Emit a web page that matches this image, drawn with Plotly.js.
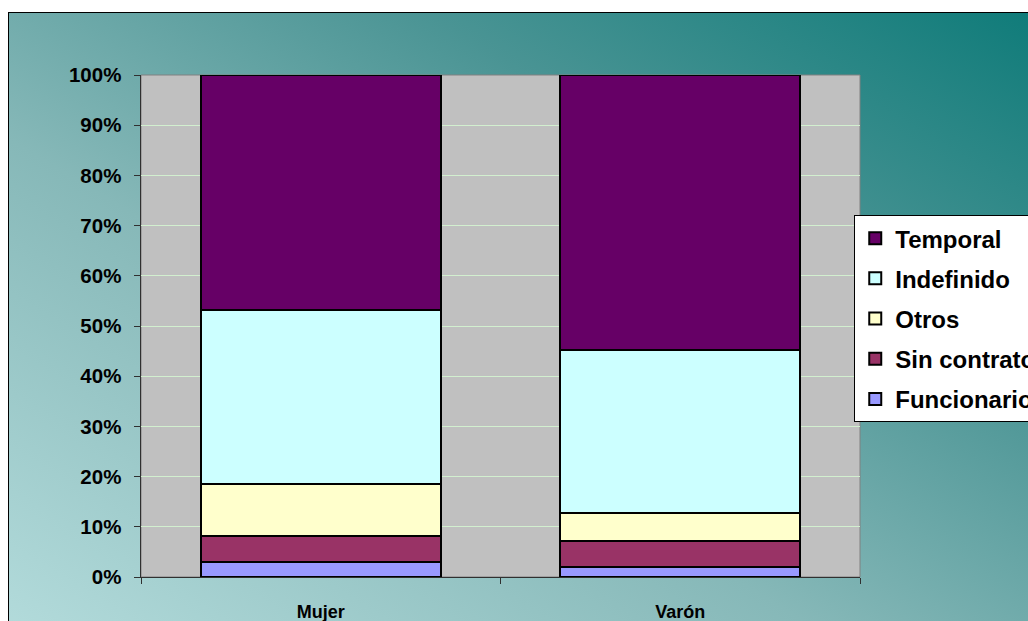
<!DOCTYPE html>
<html>
<head>
<meta charset="utf-8">
<script src="https://cdn.plot.ly/plotly-3.0.1.min.js"></script>
<style>
  html, body { margin: 0; padding: 0; overflow: hidden; width: 1028px; height: 621px; }
  #bg { position: absolute; left: 8px; top: 12px; width: 1040px; height: 630px;
        border: 1px solid #000;
        background: linear-gradient(to top right, #b4dcdc 0%, #86b8b8 40%, #4a9494 70%, #0e7b79 100%); }
  #chart { position: absolute; left: 0; top: 0; width: 1028px; height: 621px; }
</style>
</head>
<body>
<div id="bg"></div>
<div id="chart"></div>
<script>
const categories = ['Mujer', 'Varón'];
const funcionario = [3.0, 1.9];
const sinContrato = [5.2, 5.3];
const otros = [10.4, 5.5];
const indefinido = [34.6, 32.5];
const temporal = [46.8, 54.8];
const yTickVals = [0, 10, 20, 30, 40, 50, 60, 70, 80, 90, 100];

const series = [
  {name: 'Funcionario', y: funcionario, color: '#9999ff', rank: 5},
  {name: 'Sin contrato', y: sinContrato, color: '#993366', rank: 4},
  {name: 'Otros', y: otros, color: '#ffffcc', rank: 3},
  {name: 'Indefinido', y: indefinido, color: '#ccffff', rank: 2},
  {name: 'Temporal', y: temporal, color: '#660066', rank: 1}
];

const traces = series.map(s => ({
  type: 'bar',
  name: s.name,
  x: categories,
  y: s.y,
  legendgroup: s.name,
  legendrank: s.rank,
  marker: {color: s.color, line: {color: '#000000', width: 2}},
  hoverinfo: 'skip'
}));

const layout = {
  width: 1028,
  height: 621,
  paper_bgcolor: 'rgba(0,0,0,0)',
  plot_bgcolor: '#c0c0c0',
  margin: {l: 141, r: 168, t: 75, b: 44, autoexpand: false},
  barmode: 'stack',
  bargap: 0.332,
  showlegend: true,
  font: {family: 'Liberation Sans, Arial, sans-serif', color: '#000'},
  xaxis: {
    type: 'category',
    showgrid: false,
    showline: true,
    linecolor: '#303030',
    linewidth: 1,
    ticks: 'outside',
    tickson: 'boundaries',
    ticklen: 6,
    tickcolor: '#303030',
    ticklabelstandoff: 18,
    tickfont: {size: 18, family: 'Liberation Sans, Arial, sans-serif', weight: 'bold', color: '#000'},
    zeroline: false
  },
  yaxis: {
    range: [0, 100],
    tickvals: yTickVals,
    ticktext: yTickVals.map(v => v + '%'),
    showgrid: true,
    gridcolor: '#d2efcf',
    gridwidth: 1,
    showline: true,
    linecolor: '#303030',
    linewidth: 1.5,
    ticks: 'outside',
    ticklen: 6,
    tickcolor: '#303030',
    ticklabelstandoff: 8,
    tickfont: {size: 20.5, family: 'Liberation Sans, Arial, sans-serif', weight: 'bold', color: '#000'},
    zeroline: false
  },
  legend: {
    x: 0.992,
    xanchor: 'left',
    y: 0.721,
    yanchor: 'top',
    bgcolor: '#ffffff',
    bordercolor: '#000000',
    borderwidth: 1,
    traceorder: 'grouped',
    tracegroupgap: 6,
    font: {size: 24, family: 'Liberation Sans, Arial, sans-serif', weight: 'bold', color: '#000'}
  },
  shapes: [{
    type: 'rect', xref: 'paper', yref: 'paper', x0: 0, x1: 1, y0: 0, y1: 1,
    line: {color: '#808080', width: 1}, layer: 'below'
  }]
};

Plotly.newPlot('chart', traces, layout, {displayModeBar: false, staticPlot: true});
</script>
</body>
</html>
